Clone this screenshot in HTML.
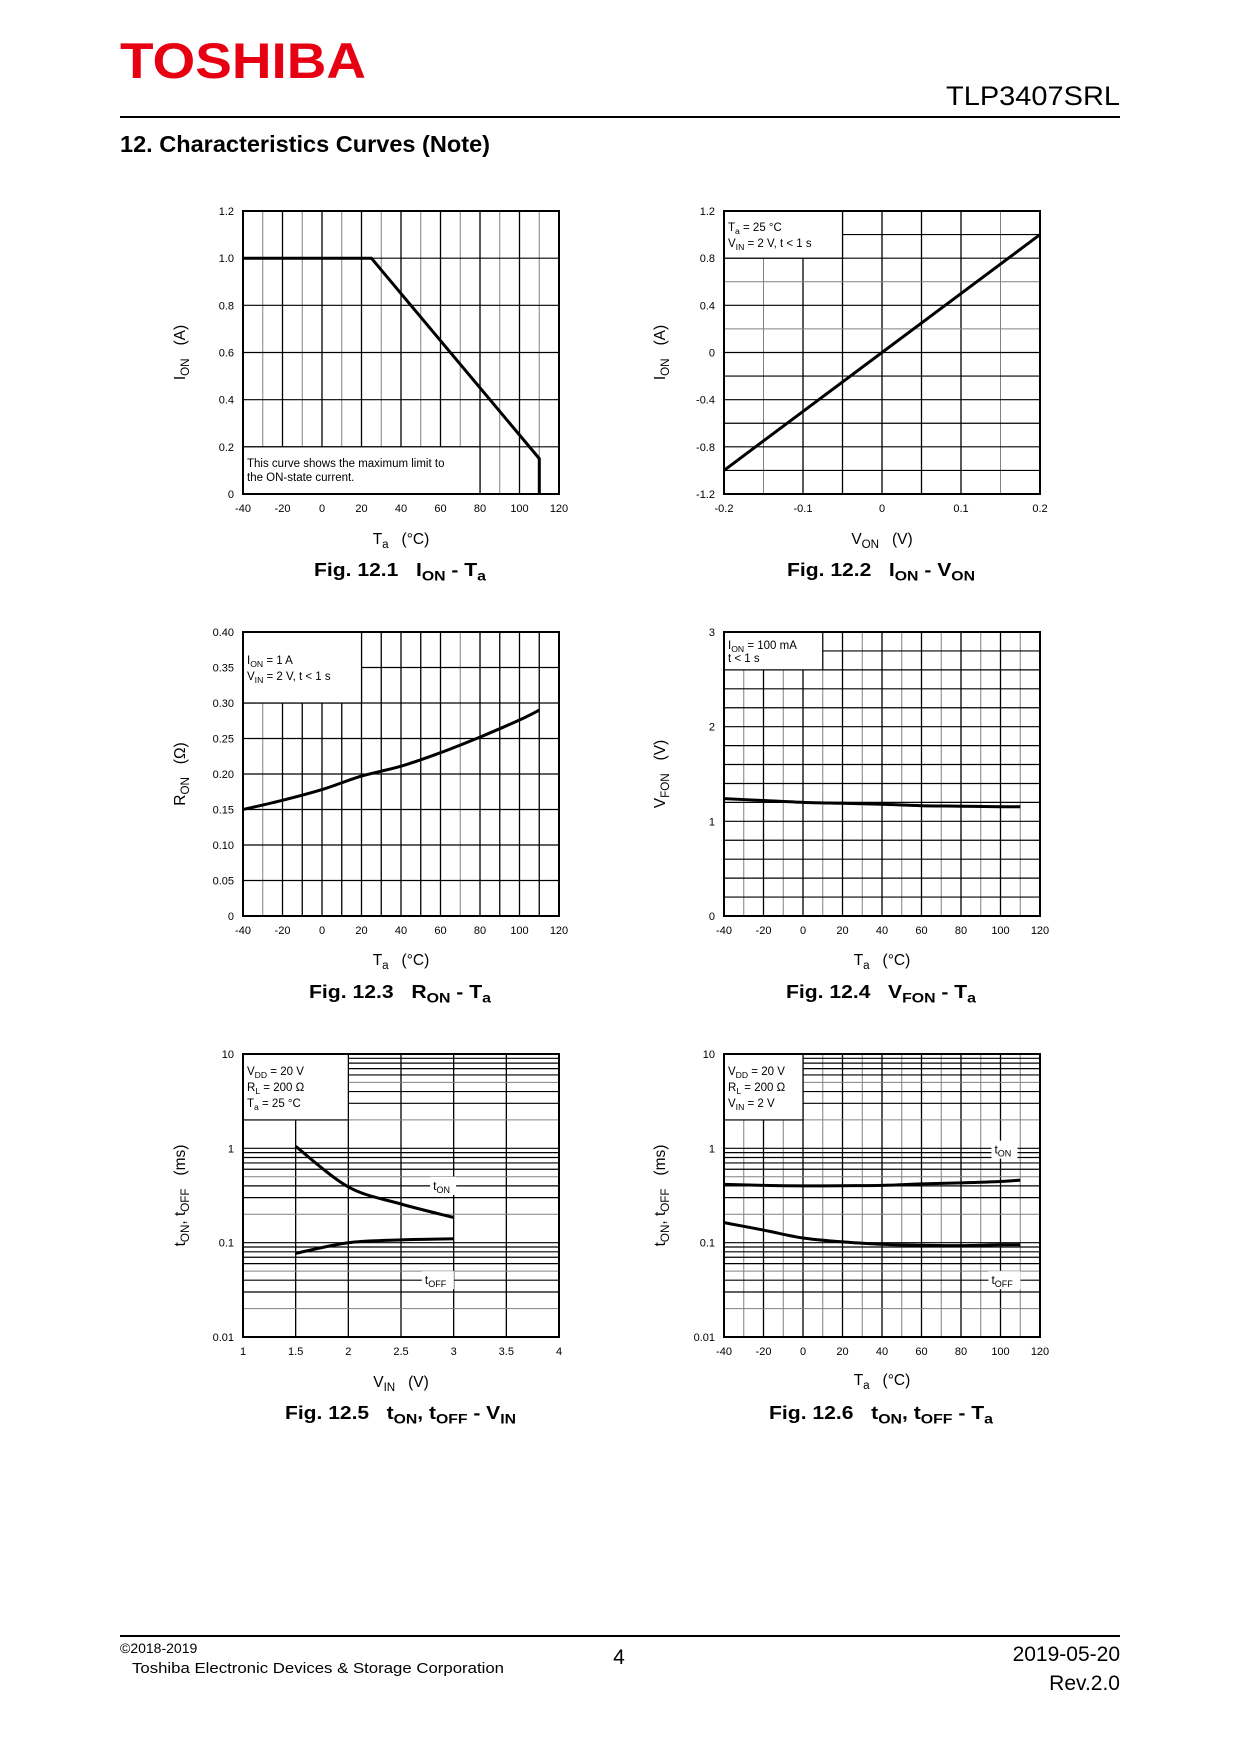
<!DOCTYPE html>
<html><head><meta charset="utf-8"><style>
html,body{margin:0;padding:0;background:#fff}
svg{display:block;font-family:"Liberation Sans",Arial,sans-serif}
</style></head><body>
<svg id="page" xmlns="http://www.w3.org/2000/svg" width="1240" height="1754" viewBox="0 0 1240 1754">
<rect width="1240" height="1754" fill="#fff"/>
<text x="120" y="78" font-size="50" font-weight="bold" fill="#e60012" textLength="246" lengthAdjust="spacingAndGlyphs">TOSHIBA</text>
<text x="1120" y="105" font-size="27" text-anchor="end" textLength="174" lengthAdjust="spacingAndGlyphs">TLP3407SRL</text>
<rect x="120" y="116" width="1000" height="2" fill="#000"/>
<text x="120" y="152" font-size="23" font-weight="bold" textLength="370" lengthAdjust="spacingAndGlyphs">12. Characteristics Curves (Note)</text>
<rect x="120" y="1635" width="1000" height="2" fill="#000"/>
<text x="120" y="1653" font-size="14">©2018-2019</text>
<text x="132" y="1673" font-size="15" textLength="372" lengthAdjust="spacingAndGlyphs">Toshiba Electronic Devices &amp; Storage Corporation</text>
<text x="619" y="1664" font-size="21" text-anchor="middle">4</text>
<text x="1120" y="1661" font-size="21" text-anchor="end">2019-05-20</text>
<text x="1120" y="1690" font-size="21" text-anchor="end">Rev.2.0</text>
<g id="charts"></g>
</svg>
<script>
// ---- Fig 12.1 ION - Ta
const c1_ta=[-40,25,110,110];
const c1_ion=[1.0,1.0,0.15,0];
const c1_xt=['-40','-20','0','20','40','60','80','100','120'];
const c1_yt=['0','0.2','0.4','0.6','0.8','1.0','1.2'];
// ---- Fig 12.2 ION - VON
const c2_von=[-0.2,0.2];
const c2_ion=[-1.0,1.0];
const c2_xt=['-0.2','-0.1','0','0.1','0.2'];
const c2_yt=['-1.2','-0.8','-0.4','0','0.4','0.8','1.2'];
// ---- Fig 12.3 RON - Ta
const c3_ta=[-40,-20,0,20,40,60,80,100,110];
const c3_ron=[0.15,0.163,0.178,0.197,0.211,0.23,0.252,0.276,0.29];
const c3_yt=['0','0.05','0.10','0.15','0.20','0.25','0.30','0.35','0.40'];
// ---- Fig 12.4 VFON - Ta
const c4_ta=[-40,-20,0,20,40,60,80,100,110];
const c4_vfon=[1.24,1.22,1.2,1.19,1.18,1.165,1.16,1.155,1.155];
const c4_yt=['0','1','2','3'];
// ---- Fig 12.5 tON,tOFF - VIN
const c5_vin=[1.5,2,2.5,3];
const c5_ton=[1.05,0.39,0.257,0.185];
const c5_toff=[0.077,0.1,0.107,0.11];
const c5_xt=['1','1.5','2','2.5','3','3.5','4'];
const c5_yt=['0.01','0.1','1','10'];
// ---- Fig 12.6 tON,tOFF - Ta
const c6_ta=[-40,-20,0,20,40,60,80,100,110];
const c6_ton=[0.415,0.405,0.40,0.402,0.405,0.42,0.43,0.445,0.46];
const c6_toff=[0.163,0.136,0.112,0.102,0.096,0.094,0.093,0.095,0.095];

const NS='http://www.w3.org/2000/svg';
const root=document.getElementById('charts');
function mk(tag,attrs,parent){const e=document.createElementNS(NS,tag);for(const k in attrs)e.setAttribute(k,attrs[k]);(parent||root).appendChild(e);return e;}
function rich(el,str,fs){
  const parts=str.split(/(_\{[^}]*\})/);
  let shifted=false;
  parts.forEach(p=>{
    if(!p)return;
    const t=document.createElementNS(NS,'tspan');
    if(p.startsWith('_{')){t.textContent=p.slice(2,-1);t.setAttribute('font-size',fs*0.75);t.setAttribute('dy',fs*0.25);shifted=true;}
    else{t.textContent=p.replace(/ {2}/g,'\u00a0\u00a0\u00a0');if(shifted){t.setAttribute('dy',-fs*0.25);shifted=false;}}
    el.appendChild(t);
  });
}
function smoothPath(pts){
  if(pts.length<3)return 'M'+pts.map(p=>p[0].toFixed(1)+','+p[1].toFixed(1)).join('L');
  let d='M'+pts[0][0]+','+pts[0][1];
  for(let i=0;i<pts.length-1;i++){
    const p0=pts[Math.max(0,i-1)],p1=pts[i],p2=pts[i+1],p3=pts[Math.min(pts.length-1,i+2)];
    const c1=[p1[0]+(p2[0]-p0[0])/6,p1[1]+(p2[1]-p0[1])/6];
    const c2=[p2[0]-(p3[0]-p1[0])/6,p2[1]-(p3[1]-p1[1])/6];
    d+='C'+c1[0].toFixed(1)+','+c1[1].toFixed(1)+' '+c2[0].toFixed(1)+','+c2[1].toFixed(1)+' '+p2[0].toFixed(1)+','+p2[1].toFixed(1);
  }
  return d;
}
function chart(c){
  const g=mk('g',{});
  
  
  const L=c.L,T=c.T,W=c.W,H=c.H,B=T+H,R=L+W;
  const sx=v=>L+(v-c.xmin)/(c.xmax-c.xmin)*W;
  const sy=c.log?(v=>B-(Math.log10(v)-Math.log10(c.ymin))/(Math.log10(c.ymax)-Math.log10(c.ymin))*H)
                :(v=>B-(v-c.ymin)/(c.ymax-c.ymin)*H);
  for(let v=c.xmin+c.xstep;v<c.xmax-1e-9;v+=c.xstep){
    const gray=c.xgray(Math.round(v*1000)/1000);
    const ln=mk('line',{x1:sx(v),x2:sx(v),y1:T,y2:B,stroke:gray?'#808080':'#000','stroke-width':gray?1:1.3},g);
    
    
  }
  let yvals=[];
  if(c.log){for(let d=Math.log10(c.ymin);d<Math.log10(c.ymax);d++){for(let m=1;m<10;m++){yvals.push(Math.pow(10,d)*m);}}}
  else{for(let v=c.ymin+c.ystep;v<c.ymax-1e-9;v+=c.ystep)yvals.push(v);}
  yvals.forEach(v=>{
    if(v<=c.ymin*1.0001)return;
    const gray=c.ygray(v);
    const ln=mk('line',{x1:L,x2:R,y1:sy(v),y2:sy(v),stroke:gray?'#808080':'#000','stroke-width':gray?1:1.2},g);
    
    
  });
  if(c.box){
    const bx=c.box;
    const x1=sx(bx.x1),x2=sx(bx.x2),y1=sy(bx.y2),y2=sy(bx.y1);
    const r=mk('rect',{x:x1,y:y1,width:x2-x1,height:y2-y1,fill:'#fff',stroke:'#000','stroke-width':1.2},g);
    
    
    bx.lines.forEach((s,i)=>{
      const t=mk('text',{x:x1+4,y:bx.base+i*bx.gap,'font-size':11.5},g);
      rich(t,s,11.5);
      
      
    });
  }
  const br=mk('rect',{x:L,y:T,width:W,height:H,fill:'none',stroke:'#000','stroke-width':2},g);
  
  
  c.series.forEach(s=>{
    const pts=s.x.map((v,i)=>[sx(v),sy(s.y[i])]);
    const d=s.linear?'M'+pts.map(p=>p[0].toFixed(1)+','+p[1].toFixed(1)).join('L'):smoothPath(pts);
    const p=mk('path',{d:d,fill:'none',stroke:'#000','stroke-width':3,'stroke-linejoin':'miter'},g);
    
    
  });
  (c.labels||[]).forEach(lb=>{
    const cx=sx(lb.x),cy=sy(lb.y);
    const r=mk('rect',{x:cx-lb.w/2,y:cy-9,width:lb.w,height:18,fill:'#fff'},g);
    
    
    const t=mk('text',{x:cx-lb.w/2+3,y:cy+4,'font-size':12},g);
    rich(t,lb.t,12);
    
    
  });
  c.xt.forEach((s,i)=>{
    const v=c.xmin+i*(c.xmax-c.xmin)/(c.xt.length-1);
    const t=mk('text',{x:sx(v),y:B+18,'font-size':11,'text-anchor':'middle'},g);
    t.textContent=s;
    
    
  });
  c.yt.forEach((s,i)=>{
    const v=c.log?Math.pow(10,Math.log10(c.ymin)+i):c.ymin+i*(c.ymax-c.ymin)/(c.yt.length-1);
    const t=mk('text',{x:L-9,y:sy(v)+4,'font-size':11,'text-anchor':'end'},g);
    t.textContent=s;
    
    
  });
  const xtl=mk('text',{x:L+W/2,y:c.xtY,'font-size':15.5,'text-anchor':'middle'},g);
  rich(xtl,c.xtitle,15.5);
  
  
  const ytl=mk('text',{x:0,y:0,'font-size':15.5,'text-anchor':'middle',transform:'translate('+(L-c.ytOff)+','+(T+H/2)+') rotate(-90)'},g);
  rich(ytl,c.ytitle,15.5);
  
  
  const cap=mk('text',{x:c.cap[0],y:c.cap[1],'font-size':18,'font-weight':'bold',textLength:c.cap[2],lengthAdjust:'spacingAndGlyphs'},g);
  rich(cap,c.caption,18);
  
  
}
const taTicks=['-40','-20','0','20','40','60','80','100','120'];
const oddTen=v=>Math.abs(Math.round(v))%20===10;
chart({name:'chart-ion-vs-ta',L:243,T:211,W:316,H:283,xmin:-40,xmax:120,ymin:0,ymax:1.2,xstep:10,ystep:0.2,
  xgray:oddTen,ygray:()=>false,xt:c1_xt,yt:c1_yt,
  box:{x1:-40,x2:80,y1:0,y2:0.2,base:467,gap:14,lines:['This curve shows the maximum limit to','the ON-state current.']},
  series:[{name:'ion-limit-curve',x:c1_ta,y:c1_ion,linear:true}],
  xtitle:'T_{a}  (°C)',xtY:544,ytitle:'I_{ON}  (A)',ytOff:58,caption:'Fig. 12.1  I_{ON} - T_{a}',cap:[314,576,172]});
chart({name:'chart-ion-vs-von',L:724,T:211,W:316,H:283,xmin:-0.2,xmax:0.2,ymin:-1.2,ymax:1.2,xstep:0.05,ystep:0.2,
  xgray:v=>Math.abs(Math.abs(v)-0.15)<0.001,ygray:v=>Math.abs(v-0.6)<0.01||Math.abs(v-0.2)<0.01,xt:c2_xt,yt:c2_yt,
  box:{x1:-0.2,x2:-0.05,y1:0.8,y2:1.2,base:231,gap:16,lines:['T_{a} = 25 °C','V_{IN} = 2 V, t < 1 s']},
  series:[{name:'ion-von-line',x:c2_von,y:c2_ion,linear:true}],
  xtitle:'V_{ON}  (V)',xtY:544,ytitle:'I_{ON}  (A)',ytOff:59,caption:'Fig. 12.2  I_{ON} - V_{ON}',cap:[787,576,188]});
chart({name:'chart-ron-vs-ta',L:243,T:632,W:316,H:284,xmin:-40,xmax:120,ymin:0,ymax:0.4,xstep:10,ystep:0.05,
  xgray:v=>v===-30||v===70,ygray:()=>false,xt:taTicks,yt:c3_yt,
  box:{x1:-40,x2:20,y1:0.3,y2:0.4,base:664,gap:16,lines:['I_{ON} = 1 A','V_{IN} = 2 V, t < 1 s']},
  series:[{name:'ron-curve',x:c3_ta,y:c3_ron}],
  xtitle:'T_{a}  (°C)',xtY:965,ytitle:'R_{ON}  (Ω)',ytOff:58,caption:'Fig. 12.3  R_{ON} - T_{a}',cap:[309,998,182]});
chart({name:'chart-vfon-vs-ta',L:724,T:632,W:316,H:284,xmin:-40,xmax:120,ymin:0,ymax:3,xstep:10,ystep:0.2,
  xgray:oddTen,ygray:()=>false,xt:taTicks,yt:c4_yt,
  box:{x1:-40,x2:10,y1:2.6,y2:3,base:649,gap:13,lines:['I_{ON} = 100 mA','t < 1 s']},
  series:[{name:'vfon-curve',x:c4_ta,y:c4_vfon}],
  xtitle:'T_{a}  (°C)',xtY:965,ytitle:'V_{FON}  (V)',ytOff:59,caption:'Fig. 12.4  V_{FON} - T_{a}',cap:[786,998,190]});
chart({name:'chart-ton-toff-vs-vin',L:243,T:1054,W:316,H:283,xmin:1,xmax:4,ymin:0.01,ymax:10,log:true,xstep:0.5,
  xgray:()=>false,ygray:v=>{const m=Math.round(v/Math.pow(10,Math.floor(Math.log10(v)+1e-9)));return m===2||m===5;},xt:c5_xt,yt:c5_yt,
  box:{x1:1,x2:2,y1:2,y2:10,base:1075,gap:16,lines:['V_{DD} = 20 V','R_{L} = 200 Ω','T_{a} = 25 °C']},
  series:[{name:'ton-curve',x:c5_vin,y:c5_ton},{name:'toff-curve',x:c5_vin,y:c5_toff}],
  labels:[{t:'t_{ON}',x:2.9,y:0.4,w:26},{t:'t_{OFF}',x:2.85,y:0.04,w:32}],
  xtitle:'V_{IN}  (V)',xtY:1387,ytitle:'t_{ON}, t_{OFF}  (ms)',ytOff:58,caption:'Fig. 12.5  t_{ON}, t_{OFF} - V_{IN}',cap:[285,1419,231]});
chart({name:'chart-ton-toff-vs-ta',L:724,T:1054,W:316,H:283,xmin:-40,xmax:120,ymin:0.01,ymax:10,log:true,xstep:10,
  xgray:oddTen,ygray:v=>{const m=Math.round(v/Math.pow(10,Math.floor(Math.log10(v)+1e-9)));return m===2||m===5;},xt:taTicks,yt:c5_yt,
  box:{x1:-40,x2:0,y1:2,y2:10,base:1075,gap:16,lines:['V_{DD} = 20 V','R_{L} = 200 Ω','V_{IN} = 2 V']},
  series:[{name:'ton-curve',x:c6_ta,y:c6_ton},{name:'toff-curve',x:c6_ta,y:c6_toff}],
  labels:[{t:'t_{ON}',x:102,y:0.97,w:26},{t:'t_{OFF}',x:102,y:0.04,w:32}],
  xtitle:'T_{a}  (°C)',xtY:1385,ytitle:'t_{ON}, t_{OFF}  (ms)',ytOff:59,caption:'Fig. 12.6  t_{ON}, t_{OFF} - T_{a}',cap:[769,1419,224]});
</script>
</body></html>
